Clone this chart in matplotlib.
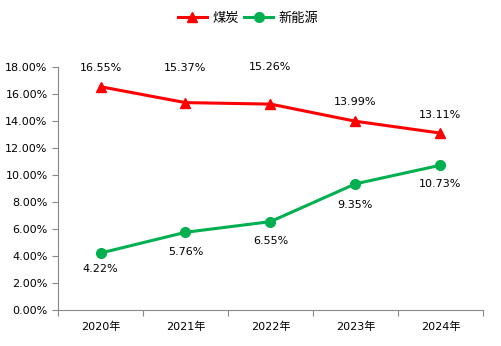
import matplotlib
matplotlib.use("Agg")
import matplotlib.pyplot as plt
from matplotlib.ticker import MultipleLocator, FuncFormatter

plt.rcParams['font.family'] = ['DejaVu Sans', 'Noto Sans CJK SC']

years = ["2020年", "2021年", "2022年", "2023年", "2024年"]
coal = [16.55, 15.37, 15.26, 13.99, 13.11]
new_energy = [4.22, 5.76, 6.55, 9.35, 10.73]

# label offsets in pixels (labels were placed by hand in the original)
coal_off = [19, 35, 37, 19, 18]
new_off = [-16, -20, -19, -21, -19]

fig = plt.figure(figsize=(5.01, 3.46), dpi=100)
ax = fig.add_axes([0.1158, 0.104, 0.848, 0.702])

x = list(range(len(years)))
ax.plot(x, coal, color='#ff0000', lw=2.2, marker='^', markersize=7.5, label='煤炭')
ax.plot(x, new_energy, color='#00b050', lw=2.2, marker='o', markersize=7, label='新能源')

for i, v in enumerate(coal):
    ax.annotate(f"{v:.2f}%", (i, v), xytext=(0, coal_off[i]), textcoords='offset pixels',
                ha='center', va='center', fontsize=8)
for i, v in enumerate(new_energy):
    ax.annotate(f"{v:.2f}%", (i, v), xytext=(0, new_off[i]), textcoords='offset pixels',
                ha='center', va='center', fontsize=8)

ax.set_xlim(-0.5, len(years) - 0.5)
ax.set_ylim(0, 18)
ax.yaxis.set_major_locator(MultipleLocator(2))
ax.yaxis.set_major_formatter(FuncFormatter(lambda v, p: f"{v:.2f}%"))
ax.set_xticks([i - 0.5 for i in range(len(years) + 1)])
ax.set_xticklabels([])
ax.set_xticks(x, minor=True)
ax.set_xticklabels(years, minor=True)
ax.tick_params(axis='x', which='minor', length=0, labelsize=8, pad=8)
ax.tick_params(axis='x', which='major', length=4, color='#888888', direction='out')
ax.tick_params(axis='y', length=4, color='#888888', labelsize=8)

for s in ['top', 'right']:
    ax.spines[s].set_visible(False)
for s in ['left', 'bottom']:
    ax.spines[s].set_color('#888888')

fig.legend(loc='upper center', bbox_to_anchor=(0.495, 1.0), ncol=2, frameon=False,
           fontsize=9.5, handlelength=2.2, columnspacing=0.4, handletextpad=0.4)

fig.savefig("out.png", dpi=100)
